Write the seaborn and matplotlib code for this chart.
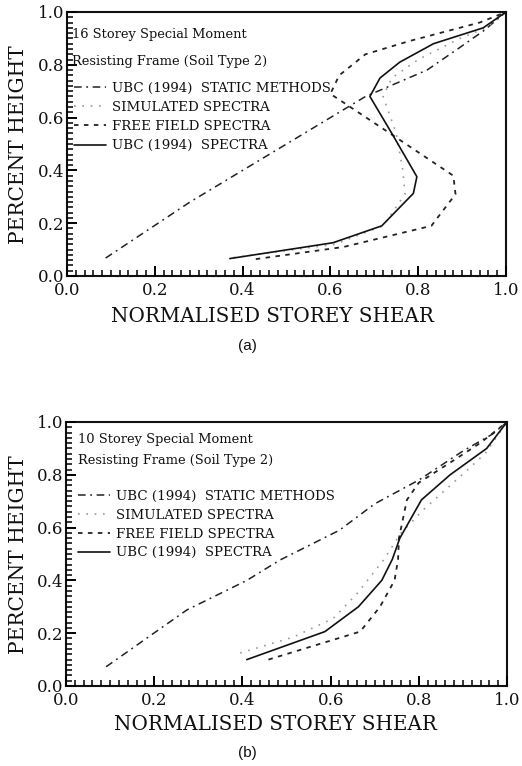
import numpy as np
import pandas as pd
import matplotlib
matplotlib.use("Agg")
import matplotlib.pyplot as plt
import seaborn as sns
from matplotlib.ticker import MultipleLocator, FixedFormatter

# ---------------- data ----------------
series_names = ["UBC (1994)  STATIC METHODS", "SIMULATED SPECTRA",
                "FREE FIELD SPECTRA", "UBC (1994)  SPECTRA"]

# (a) 16 storey
a_static_x = [0.088, 0.28, 0.42, 0.53, 0.62, 0.68, 0.75, 0.82, 0.89, 0.95, 1.0]
a_static_y = [0.068, 0.28, 0.42, 0.53, 0.62, 0.68, 0.73, 0.78, 0.86, 0.93, 1.0]
a_sim_x = [0.38, 0.61, 0.72, 0.77, 0.765, 0.75, 0.72, 0.74, 0.80, 0.895, 0.955, 1.0]
a_sim_y = [0.07, 0.12, 0.19, 0.31, 0.40, 0.54, 0.68, 0.75, 0.82, 0.90, 0.94, 1.0]
a_ff_x = [0.43, 0.63, 0.83, 0.885, 0.88, 0.745, 0.60, 0.62, 0.68, 0.78, 0.94, 1.0]
a_ff_y = [0.064, 0.11, 0.19, 0.31, 0.38, 0.53, 0.69, 0.76, 0.84, 0.89, 0.96, 1.0]
a_ubc_x = [0.371, 0.606, 0.717, 0.789, 0.797, 0.74, 0.69, 0.713, 0.758, 0.835, 0.948, 1.0]
a_ubc_y = [0.066, 0.126, 0.19, 0.313, 0.376, 0.54, 0.68, 0.75, 0.81, 0.88, 0.94, 1.0]

# (b) 10 storey
b_static_x = [0.091, 0.274, 0.41, 0.485, 0.62, 0.70, 0.80, 0.90, 0.968, 1.0]
b_static_y = [0.073, 0.288, 0.40, 0.477, 0.59, 0.69, 0.78, 0.89, 0.955, 1.0]
b_sim_x = [0.395, 0.515, 0.606, 0.66, 0.72, 0.76, 0.81, 0.91, 0.95, 1.0]
b_sim_y = [0.125, 0.185, 0.256, 0.35, 0.477, 0.58, 0.667, 0.818, 0.88, 1.0]
b_ff_x = [0.459, 0.667, 0.712, 0.745, 0.753, 0.755, 0.773, 0.80, 0.87, 0.939, 1.0]
b_ff_y = [0.10, 0.206, 0.30, 0.40, 0.48, 0.56, 0.705, 0.77, 0.845, 0.92, 1.0]
b_ubc_x = [0.41, 0.587, 0.663, 0.716, 0.74, 0.757, 0.806, 0.871, 0.954, 1.0]
b_ubc_y = [0.10, 0.206, 0.30, 0.40, 0.48, 0.56, 0.705, 0.80, 0.90, 1.0]

tick_step = 0.2
minor_step = 0.02
panel_titles = [["16 Storey Special Moment", "Resisting Frame (Soil Type 2)"],
                ["10 Storey Special Moment", "Resisting Frame (Soil Type 2)"]]
panel_tags = ["(a)", "(b)"]
xlabel = "NORMALISED STOREY SHEAR"
ylabel = "PERCENT HEIGHT"

# ---------------- style ----------------
sns.set_theme(style="ticks")
plt.rcParams["font.family"] = ["DejaVu Serif"]
plt.rcParams.update({"xtick.direction": "in", "ytick.direction": "in"})

styles = {
    series_names[0]: dict(color="#222222", ls=(0, (5, 3, 1.2, 3)), lw=1.1),
    series_names[1]: dict(color="#9a9a9a", ls=(0, (1, 4)), lw=1.2),
    series_names[2]: dict(color="#222222", ls=(0, (2.5, 3)), lw=1.3),
    series_names[3]: dict(color="#111111", ls="-", lw=1.2),
}

fig = plt.figure(figsize=(5.22, 7.66), dpi=100)
ax_a = fig.add_axes([67 / 522, 1 - 276 / 766, 439 / 522, 264 / 766])
ax_b = fig.add_axes([66 / 522, 1 - 686 / 766, 441 / 522, 264 / 766])

panels = [
    (ax_a, [(a_static_x, a_static_y), (a_sim_x, a_sim_y), (a_ff_x, a_ff_y), (a_ubc_x, a_ubc_y)]),
    (ax_b, [(b_static_x, b_static_y), (b_sim_x, b_sim_y), (b_ff_x, b_ff_y), (b_ubc_x, b_ubc_y)]),
]
title_pos = [((0.011, 0.913), (0.011, 0.811)), ((0.027, 0.932), (0.027, 0.856))]
legend_anchor = [(0.003, 0.757), (0.014, 0.762)]
legend_spacing = [0.47, 0.43]

for i, (ax, data) in enumerate(panels):
    for name, (xs, ys) in zip(series_names, data):
        df = pd.DataFrame({"shear": xs, "height": ys})
        st = styles[name]
        sns.lineplot(data=df, x="shear", y="height", ax=ax, sort=False,
                     estimator=None, color=st["color"], linestyle=st["ls"],
                     linewidth=st["lw"], label=name)
    ax.set_xlim(0, 1)
    ax.set_ylim(0, 1)
    ax.xaxis.set_major_locator(MultipleLocator(tick_step))
    ax.yaxis.set_major_locator(MultipleLocator(tick_step))
    ax.xaxis.set_major_formatter(matplotlib.ticker.FormatStrFormatter("%.1f"))
    ax.yaxis.set_major_formatter(matplotlib.ticker.FormatStrFormatter("%.1f"))
    ax.xaxis.set_minor_locator(MultipleLocator(minor_step))
    ax.yaxis.set_minor_locator(MultipleLocator(minor_step))
    ax.set_axisbelow(False)
    ax.tick_params(which="major", length=7, width=1.4, color="black",
                   bottom=True, left=True, top=False, right=False)
    ax.tick_params(which="minor", length=4, width=1.1, color="black",
                   bottom=True, left=True, top=False, right=False)
    ax.tick_params(axis="x", which="major", pad=4)
    ax.tick_params(axis="y", which="major", pad=2)
    ax.tick_params(axis="both", which="major", labelsize=12, labelcolor="#111111")
    for sp in ax.spines.values():
        sp.set_visible(True)
        sp.set_linewidth(1.5)
        sp.set_color("#111111")
    ax.set_xlabel("")
    ax.set_ylabel("")
    for line_txt, (tx, ty) in zip(panel_titles[i], title_pos[i]):
        ax.text(tx, ty, line_txt, transform=ax.transAxes, fontsize=9.4,
                va="center", ha="left", color="#111111")
    leg = ax.legend(loc="upper left", bbox_to_anchor=legend_anchor[i], frameon=False,
                    fontsize=9.6, handlelength=2.4, handletextpad=0.5,
                    labelspacing=legend_spacing[i], borderaxespad=0.0)
    for t in leg.get_texts():
        t.set_color("#111111")

# axis labels & tags
fig.text(272 / 522, 1 - 317 / 766, xlabel, ha="center", va="center", fontsize=14.3, color="#111111")
fig.text(275 / 522, 1 - 725 / 766, xlabel, ha="center", va="center", fontsize=14.3, color="#111111")
fig.text(19 / 522, 1 - 145 / 766, ylabel, ha="center", va="center", rotation=90, fontsize=14.5, color="#111111")
fig.text(19 / 522, 1 - 555 / 766, ylabel, ha="center", va="center", rotation=90, fontsize=14.5, color="#111111")
fig.text(247 / 522, 1 - 346 / 766, panel_tags[0], ha="center", va="center", fontsize=11,
         family=["Liberation Sans", "DejaVu Sans"], color="#111111")
fig.text(247 / 522, 1 - 753 / 766, panel_tags[1], ha="center", va="center", fontsize=11,
         family=["Liberation Sans", "DejaVu Sans"], color="#111111")

fig.savefig("out.png", dpi=100, facecolor="white")
